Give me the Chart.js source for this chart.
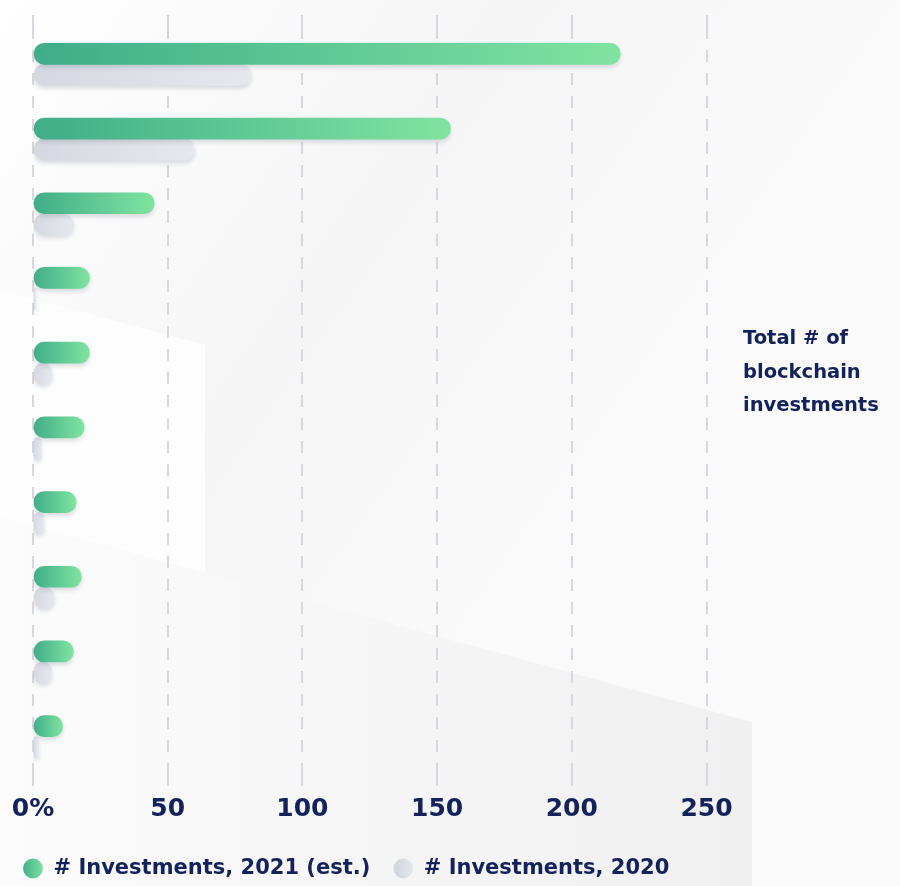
<!DOCTYPE html>
<html>
<head>
<meta charset="utf-8">
<script src="https://cdn.jsdelivr.net/npm/chart.js@4.4.0/dist/chart.umd.min.js"></script>
<style>
    html, body { margin: 0; padding: 0; background: #fff; }
    #wrap { position: relative; width: 900px; height: 886px; }
    #note {
        position: absolute; left: 743px; top: 321px;
        font-family: "DejaVu Sans", sans-serif; font-weight: bold; font-size: 19.5px;
        line-height: 33.5px; color: #14225c;
    }
</style>
</head>
<body>
<div id="wrap">
    <canvas id="myChart" width="900" height="886"></canvas>
    <div id="note">Total # of<br>blockchain<br>investments</div>
</div>
<script>
// rows have no visible labels in the original
const rows = ['1', '2', '3', '4', '5', '6', '7', '8', '9', '10'];
const invest2021 = [218, 155, 45, 21, 21, 19, 16, 18, 15, 11];
const invest2020 = [81, 60, 15, 1, 7, 3, 4, 8, 7, 2];
const xTicks = ['0%', '50', '100', '150', '200', '250'];

const navy = '#14225c';
const gridGrey = '#d8d8dc';
const fontFamily = '"DejaVu Sans", sans-serif';

var ctx = document.getElementById('myChart').getContext('2d');

function barFill(from, to) {
    return function(context) {
        const chart = context.chart;
        if (!chart.chartArea || context.type !== 'data') {
            return from;
        }
        const x = chart.scales.x;
        const x0 = x.getPixelForValue(0);
        const x1 = x.getPixelForValue(context.raw);
        const g = chart.ctx.createLinearGradient(x0, 0, Math.max(x1, x0 + 1), 0);
        g.addColorStop(0, from);
        g.addColorStop(1, to);
        return g;
    };
}

// soft grey shapes behind the chart
const backdrop = {
    id: 'backdrop',
    beforeDraw(chart) {
        const c = chart.ctx, w = chart.width, h = chart.height;
        c.save();
        let g = c.createLinearGradient(0, 0, w * 0.7, h * 0.5);
        g.addColorStop(0, '#ffffff');
        g.addColorStop(0.55, '#f5f5f6');
        g.addColorStop(1, '#fafafa');
        c.fillStyle = g;
        c.fillRect(0, 0, w, h);

        c.fillStyle = '#fdfdfd';
        c.beginPath();
        c.moveTo(0, 290); c.lineTo(205, 345); c.lineTo(205, 573); c.lineTo(0, 517);
        c.closePath();
        c.fill();

        g = c.createLinearGradient(0, 0, 752, 0);
        g.addColorStop(0, '#fcfcfc');
        g.addColorStop(0.35, '#f7f7f8');
        g.addColorStop(1, '#f0f0f1');
        c.fillStyle = g;
        c.beginPath();
        c.moveTo(0, 517); c.lineTo(752, 722); c.lineTo(752, h); c.lineTo(0, h);
        c.closePath();
        c.fill();

        c.fillStyle = '#fafafa';
        c.beginPath();
        c.moveTo(752, 722); c.lineTo(w, 780); c.lineTo(w, h); c.lineTo(752, h);
        c.closePath();
        c.fill();
        c.restore();
    }
};

const barShadow = {
    id: 'barShadow',
    beforeDatasetsDraw(chart) {
        const c = chart.ctx;
        c.save();
        c.shadowColor = 'rgba(70, 80, 100, 0.18)';
        c.shadowBlur = 4;
        c.shadowOffsetY = 3;
    },
    afterDatasetsDraw(chart) {
        chart.ctx.restore();
    }
};

var myChart = new Chart(ctx, {
    type: 'bar',
    data: {
        labels: rows,
        datasets: [{
            label: '# Investments, 2021 (est.)',
            data: invest2021,
            backgroundColor: barFill('#40ad89', '#80e3a0'),
            borderRadius: 11,
            borderSkipped: false,
            barThickness: 21
        }, {
            label: '# Investments, 2020',
            data: invest2020,
            backgroundColor: barFill('#d5d8e0', '#e6e8ee'),
            borderRadius: 11,
            borderSkipped: false,
            barThickness: 21
        }]
    },
    plugins: [backdrop, barShadow],
    options: {
        indexAxis: 'y',
        responsive: false,
        animation: false,
        layout: {
            padding: { left: 0, right: 193.5, top: 15, bottom: -3 }
        },
        plugins: {
            tooltip: { enabled: false },
            legend: {
                position: 'bottom',
                align: 'start',
                labels: {
                    usePointStyle: true,
                    pointStyle: 'circle',
                    boxWidth: 20,
                    boxHeight: 14,
                    padding: 23,
                    color: navy,
                    font: { family: fontFamily, weight: 'bold', size: 21 },
                    generateLabels: function(chart) {
                        const items = Chart.defaults.plugins.legend.labels.generateLabels(chart);
                        const c = chart.ctx;
                        const g1 = c.createLinearGradient(22, 0, 44, 0);
                        g1.addColorStop(0, '#40ad89');
                        g1.addColorStop(1, '#80e3a0');
                        const g2 = c.createLinearGradient(398, 0, 420, 0);
                        g2.addColorStop(0, '#d5d8e0');
                        g2.addColorStop(1, '#eceef2');
                        items[0].fillStyle = g1;
                        items[1].fillStyle = g2;
                        items.forEach(function(it) { it.lineWidth = 0; it.strokeStyle = 'transparent'; });
                        return items;
                    }
                }
            }
        },
        scales: {
            x: {
                position: 'bottom',
                min: 0,
                max: 250,
                border: { display: false, dash: [12, 11] },
                grid: {
                    color: gridGrey,
                    lineWidth: 2,
                    drawTicks: true,
                    tickLength: 12,
                    tickColor: gridGrey,
                    tickBorderDash: [12, 11]
                },
                ticks: {
                    stepSize: 50,
                    padding: 8,
                    color: navy,
                    font: { family: fontFamily, weight: 'bold', size: 25 },
                    callback: function(value, index) {
                        return xTicks[index];
                    }
                },
                afterFit: function(scale) {
                    scale.height = 61;
                }
            },
            x2: {
                position: 'top',
                min: 0,
                max: 250,
                border: { display: false },
                grid: {
                    drawOnChartArea: false,
                    drawTicks: true,
                    tickLength: 12,
                    lineWidth: 2,
                    tickColor: gridGrey,
                    tickBorderDash: [12, 11]
                },
                ticks: { display: false, stepSize: 50 }
            },
            y: {
                ticks: { display: false },
                grid: { display: false },
                border: { display: false },
                afterFit: function(scale) {
                    scale.width = 33;
                }
            }
        }
    }
});
</script>
</body>
</html>
